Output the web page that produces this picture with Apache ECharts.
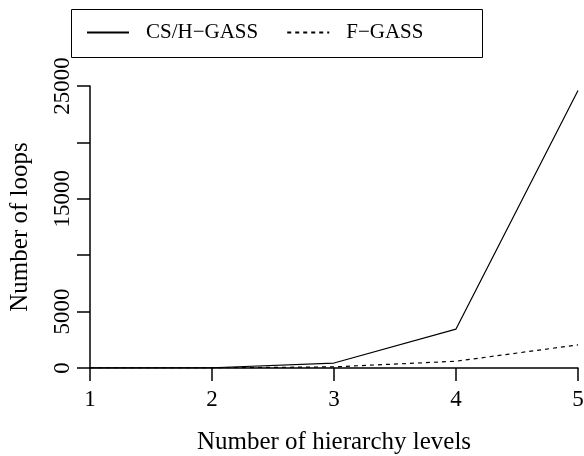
<!DOCTYPE html>
<html>
<head>
<meta charset="utf-8">
<script src="https://cdn.jsdelivr.net/npm/echarts@6/dist/echarts.min.js"></script>
<style>html,body{margin:0;padding:0;background:#fff}#c{width:584px;height:456px}</style>
</head>
<body>
<div id="c"></div>
<script>
var levels = [1, 2, 3, 4, 5];
var csh = [5, 20, 440, 3450, 24600];
var fgass = [2, 10, 100, 600, 2050];
var seriesNames = ['CS/H\u2212GASS', 'F\u2212GASS'];
var yTicksShown = [0, 5000, 15000, 25000];
var xTitle = 'Number of hierarchy levels';
var yTitle = 'Number of loops';

function pairs(xs, ys) { return xs.map(function (x, i) { return [x, ys[i]]; }); }

var serif = 'Liberation Serif';
var chart = echarts.init(document.getElementById('c'), null, { renderer: 'canvas' });
chart.setOption({
  animation: false,
  backgroundColor: '#fff',
  grid: { left: 90, right: 6, top: 86, bottom: 88, containLabel: false, outerBoundsMode: 'none' },
  graphic: [{
    type: 'rect', left: 69, top: 7,
    shape: { width: 411, height: 48 },
    style: { fill: 'none', stroke: '#000', lineWidth: 1 }
  }],
  legend: {
    left: 81, top: 17, padding: 5,
    itemWidth: 42, itemHeight: 14, itemGap: 28,
    itemStyle: { color: 'rgba(0,0,0,0)', borderWidth: 0, opacity: 0 },
    textStyle: { fontFamily: serif, fontSize: 21, color: '#000', padding: [0, 0, 0, 12] },
    data: seriesNames
  },
  xAxis: {
    type: 'value', min: 1, max: 5, interval: 1,
    name: xTitle, nameLocation: 'middle', nameGap: 62,
    nameTextStyle: { fontFamily: serif, fontSize: 25, color: '#000' },
    axisLine: { onZero: false, lineStyle: { color: '#000', width: 1.5 } },
    axisTick: { length: 13, lineStyle: { color: '#000', width: 1.5 } },
    axisLabel: { margin: 20, fontFamily: serif, fontSize: 23, color: '#000' },
    splitLine: { show: false }
  },
  yAxis: {
    type: 'value', min: 0, max: 25000, interval: 5000,
    name: yTitle, nameLocation: 'middle', nameGap: 57, nameRotate: 90,
    nameTextStyle: { fontFamily: serif, fontSize: 25, color: '#000' },
    axisLine: { show: true, lineStyle: { color: '#000', width: 1.5 } },
    axisTick: { show: true, length: 13, lineStyle: { color: '#000', width: 1.5 } },
    axisLabel: {
      rotate: 90, margin: 16, fontFamily: serif, fontSize: 23, color: '#000',
      formatter: function (v) { return yTicksShown.indexOf(v) >= 0 ? String(v) : ''; }
    },
    splitLine: { show: false }
  },
  series: [{
    name: seriesNames[0], type: 'line', data: pairs(levels, csh),
    symbol: 'none', color: '#000',
    lineStyle: { color: '#000', width: 1.2, type: 'solid' }
  }, {
    name: seriesNames[1], type: 'line', data: pairs(levels, fgass),
    symbol: 'none', color: '#000',
    lineStyle: { color: '#000', width: 1.2, type: [4, 4] }
  }]
});
</script>
</body>
</html>
